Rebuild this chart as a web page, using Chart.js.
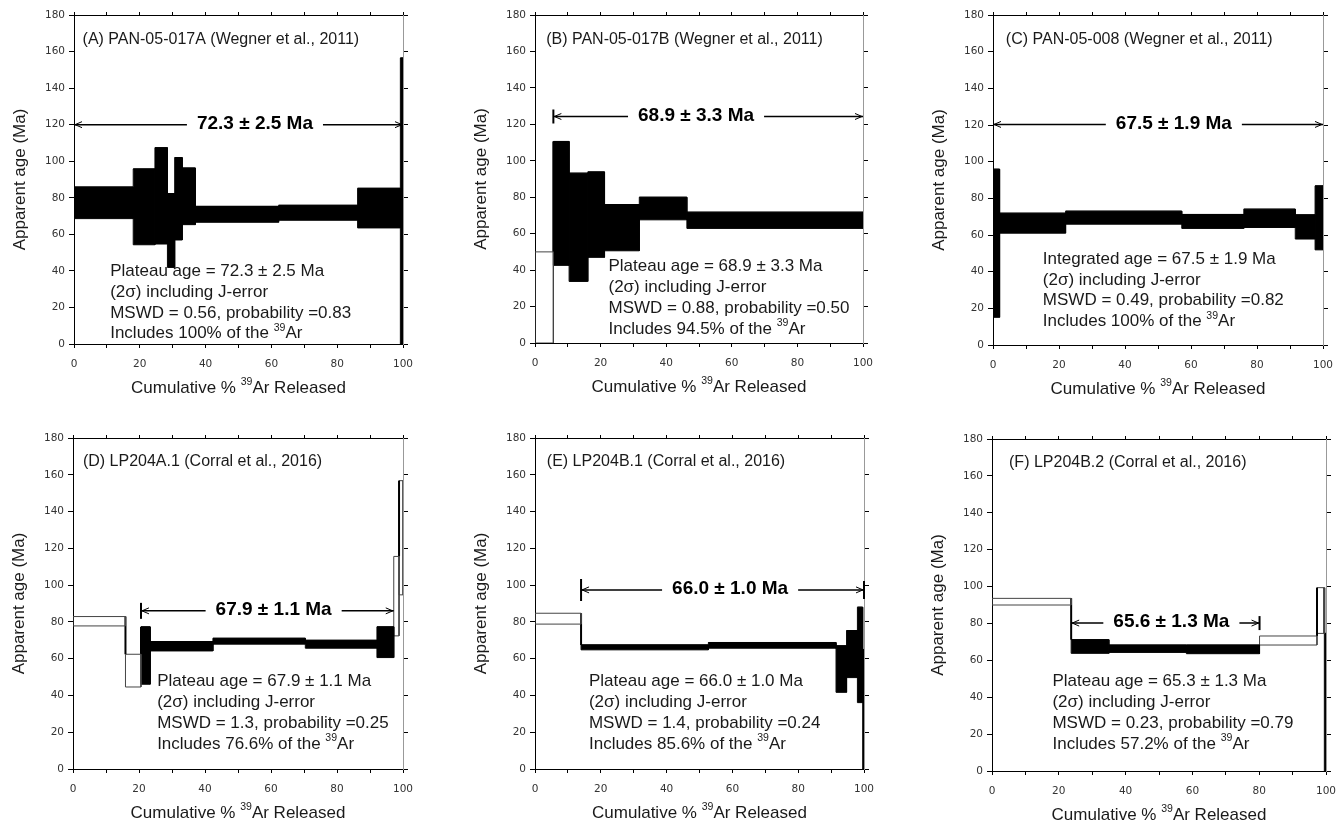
<!DOCTYPE html>
<html>
<head>
<meta charset="utf-8">
<title>40Ar/39Ar age spectra</title>
<script src="https://cdn.jsdelivr.net/npm/chart.js@4.4.1/dist/chart.umd.min.js"></script>
<style>
  body { margin: 0; background: #fff; width: 1336px; height: 825px; position: relative; overflow: hidden; }
  canvas { position: absolute; }
</style>
</head>
<body>
<canvas id="cA"></canvas>
<canvas id="cB"></canvas>
<canvas id="cC"></canvas>
<canvas id="cD"></canvas>
<canvas id="cE"></canvas>
<canvas id="cF"></canvas>
<script>
// step boundaries (cumulative % 39Ar), upper / lower age limits (Ma), plateau flag
const aCum  = [0, 18.0, 24.6, 28.4, 30.6, 32.9, 36.9, 62.2, 86.2, 99.2, 100];
const aHigh = [85.9, 95.8, 107.4, 82.3, 102.0, 96.3, 75.3, 75.9, 85.2, 156.5];
const aLow  = [68.6, 54.3, 54.7, 41.9, 56.9, 65.3, 66.6, 67.7, 63.5, 0];
const aPlat = [1, 1, 1, 1, 1, 1, 1, 1, 1, 1];

const bCum  = [0, 5.6, 10.4, 16.1, 21.2, 31.8, 46.3, 100];
const bHigh = [50.0, 110.6, 93.2, 93.9, 76.0, 80.0, 71.8];
const bLow  = [0, 42.6, 33.8, 47.0, 50.6, 67.6, 62.9];
const bPlat = [0, 1, 1, 1, 1, 1, 1];

const cCum  = [0, 2.0, 22.0, 57.2, 76.0, 91.6, 97.6, 100];
const cHigh = [95.9, 71.9, 73.0, 71.2, 74.1, 71.0, 86.8];
const cLow  = [15.1, 61.0, 65.9, 63.6, 64.1, 57.8, 51.9];
const cPlat = [1, 1, 1, 1, 1, 1, 1];

const dCum  = [0, 15.9, 20.6, 23.4, 42.4, 70.4, 92.1, 97.2, 98.8, 100];
const dHigh = [82.9, 62.4, 77.3, 69.3, 71.1, 70.0, 77.3, 115.6, 156.8];
const dLow  = [77.8, 44.6, 46.1, 64.2, 67.9, 65.7, 60.6, 72.4, 94.7];
const dPlat = [0, 0, 1, 1, 1, 1, 1, 0, 0];

const eCum  = [0, 14.0, 52.7, 91.5, 94.7, 98.0, 99.6, 100];
const eHigh = [84.7, 67.5, 68.8, 67.0, 75.3, 88.0, 65.0];
const eLow  = [78.8, 64.8, 65.7, 41.7, 49.7, 36.1, 0];
const ePlat = [0, 1, 1, 1, 1, 1, 1];

const fCum  = [0, 23.7, 35.0, 58.2, 80.1, 97.3, 99.5, 100];
const fHigh = [93.6, 71.2, 68.3, 68.3, 73.2, 99.4, 74.6];
const fLow  = [90.0, 63.8, 64.3, 63.6, 68.3, 74.6, 0];
const fPlat = [0, 1, 1, 1, 0, 0, 1];

// plateau arrows: [from %, to %, age level Ma]
const aArrow = [0, 100, 120];
const bArrow = [5.6, 100, 124.3];
const cArrow = [0, 100, 120.3];
const dArrow = [20.6, 97.2, 86.0];
const eArrow = [14.0, 100, 97.4];
const fArrow = [23.7, 80.1, 80.2];

const xTicks = [0, 20, 40, 60, 80, 100];
const yTicks = [0, 20, 40, 60, 80, 100, 120, 140, 160, 180];

const SANS = '"Liberation Sans", Arial, Helvetica, sans-serif';
const L = 74, T = 15, R = 10, B = 60;

const panels = [
  { id: 'cA', left: 74, top: 15, w: 329, h: 329,
    cum: aCum, high: aHigh, low: aLow, plat: aPlat, arrow: aArrow, bars: [0, 0],
    title: '(A) PAN-05-017A (Wegner et al., 2011)', titleAt: [2.6, 166.5],
    age: '72.3 ± 2.5 Ma', ageAt: 55.0,
    stats: ['Plateau age = 72.3 ± 2.5 Ma', '(2σ) including J-error',
            'MSWD = 0.56, probability =0.83', 'Includes 100% of the ^39Ar'],
    statsAt: [11.0, 39.8] },
  { id: 'cB', left: 535, top: 15, w: 328, h: 328,
    cum: bCum, high: bHigh, low: bLow, plat: bPlat, arrow: bArrow, bars: [7, 0],
    title: '(B) PAN-05-017B (Wegner et al., 2011)', titleAt: [3.4, 166.5],
    age: '68.9 ± 3.3 Ma', ageAt: 49.1,
    stats: ['Plateau age = 68.9 ± 3.3 Ma', '(2σ) including J-error',
            'MSWD = 0.88, probability =0.50', 'Includes 94.5% of the ^39Ar'],
    statsAt: [22.4, 42.0] },
  { id: 'cC', left: 993, top: 15, w: 330, h: 330,
    cum: cCum, high: cHigh, low: cLow, plat: cPlat, arrow: cArrow, bars: [0, 0],
    title: '(C) PAN-05-008 (Wegner et al., 2011)', titleAt: [3.9, 166.5],
    age: '67.5 ± 1.9 Ma', ageAt: 54.8,
    stats: ['Integrated age = 67.5 ± 1.9 Ma', '(2σ) including J-error',
            'MSWD = 0.49, probability =0.82', 'Includes 100% of the ^39Ar'],
    statsAt: [15.1, 46.9] },
  { id: 'cD', left: 73, top: 438, w: 330, h: 331,
    cum: dCum, high: dHigh, low: dLow, plat: dPlat, arrow: dArrow, bars: [8, 0],
    title: '(D) LP204A.1 (Corral et al., 2016)', titleAt: [3.0, 167.0],
    age: '67.9 ± 1.1 Ma', ageAt: 60.8,
    stats: ['Plateau age = 67.9 ± 1.1 Ma', '(2σ) including J-error',
            'MSWD = 1.3, probability =0.25', 'Includes 76.6% of the ^39Ar'],
    statsAt: [25.5, 47.5] },
  { id: 'cE', left: 535, top: 438, w: 329, h: 331,
    cum: eCum, high: eHigh, low: eLow, plat: ePlat, arrow: eArrow, bars: [11, 9],
    title: '(E) LP204B.1 (Corral et al., 2016)', titleAt: [3.6, 167.0],
    age: '66.0 ± 1.0 Ma', ageAt: 59.3,
    stats: ['Plateau age = 66.0 ± 1.0 Ma', '(2σ) including J-error',
            'MSWD = 1.4, probability =0.24', 'Includes 85.6% of the ^39Ar'],
    statsAt: [16.4, 47.6] },
  { id: 'cF', left: 992, top: 439, w: 334, h: 332,
    cum: fCum, high: fHigh, low: fLow, plat: fPlat, arrow: fArrow, bars: [0, 7],
    title: '(F) LP204B.2 (Corral et al., 2016)', titleAt: [5.1, 167.0],
    age: '65.6 ± 1.3 Ma', ageAt: 53.7,
    stats: ['Plateau age = 65.3 ± 1.3 Ma', '(2σ) including J-error',
            'MSWD = 0.23, probability =0.79', 'Includes 57.2% of the ^39Ar'],
    statsAt: [18.1, 48.4] }
];

// text with "^39" style superscripts
function richWidth(ctx, str, size) {
  let w = 0;
  str.split(/\^(\d+)/).forEach((t, k) => {
    ctx.font = (k % 2 ? size * 0.62 : size) + 'px ' + SANS;
    w += ctx.measureText(t).width;
  });
  return w;
}
function drawRich(ctx, str, x, y, size) {
  let cx = x;
  str.split(/\^(\d+)/).forEach((t, k) => {
    const sup = k % 2 === 1;
    ctx.font = (sup ? size * 0.62 : size) + 'px ' + SANS;
    ctx.fillText(t, cx, sup ? y - size * 0.33 : y);
    cx += ctx.measureText(t).width;
  });
}

function notesPlugin(p) {
  return {
    id: 'notes',
    afterDraw(chart) {
      const { ctx, chartArea, scales } = chart;
      const x = scales.x, y = scales.y;
      ctx.save();
      ctx.fillStyle = '#1a1a1a';
      ctx.textBaseline = 'middle';
      ctx.textAlign = 'left';

      // sample name
      ctx.font = '16px ' + SANS;
      ctx.fillText(p.title, x.getPixelForValue(p.titleAt[0]), y.getPixelForValue(p.titleAt[1]));

      // plateau arrow with the age in the middle
      const ax0 = x.getPixelForValue(p.arrow[0]);
      const ax1 = x.getPixelForValue(p.arrow[1]);
      const ay = y.getPixelForValue(p.arrow[2]);
      ctx.font = 'bold 19px ' + SANS;
      const tw = ctx.measureText(p.age).width;
      const tc = x.getPixelForValue(p.ageAt);
      ctx.strokeStyle = '#000';
      ctx.lineWidth = 1.5;
      ctx.beginPath();
      ctx.moveTo(ax0, ay); ctx.lineTo(tc - tw / 2 - 10, ay);
      ctx.moveTo(tc + tw / 2 + 10, ay); ctx.lineTo(ax1, ay);
      ctx.stroke();
      ctx.lineWidth = 1;
      ctx.beginPath();
      ctx.moveTo(ax0 + 8, ay - 3); ctx.lineTo(ax0 + 1, ay); ctx.lineTo(ax0 + 8, ay + 3);
      ctx.moveTo(ax1 - 8, ay - 3); ctx.lineTo(ax1 - 1, ay); ctx.lineTo(ax1 - 8, ay + 3);
      ctx.stroke();
      ctx.lineWidth = 2;
      ctx.beginPath();
      if (p.bars[0]) { ctx.moveTo(ax0, ay - p.bars[0]); ctx.lineTo(ax0, ay + p.bars[0]); }
      if (p.bars[1]) { ctx.moveTo(ax1, ay - p.bars[1]); ctx.lineTo(ax1, ay + p.bars[1]); }
      ctx.stroke();
      ctx.textAlign = 'center';
      ctx.fillStyle = '#000';
      ctx.fillText(p.age, tc, ay - 1);

      // statistics block
      ctx.textAlign = 'left';
      ctx.fillStyle = '#1a1a1a';
      const sx = x.getPixelForValue(p.statsAt[0]);
      let sy = y.getPixelForValue(p.statsAt[1]);
      p.stats.forEach(line => {
        drawRich(ctx, line, sx, sy, 17);
        sy += 20.8;
      });

      // x axis title
      const xt = 'Cumulative % ^39Ar Released';
      const xw = richWidth(ctx, xt, 17);
      drawRich(ctx, xt, (chartArea.left + chartArea.right) / 2 - xw / 2, chartArea.bottom + 44, 17);
      ctx.restore();
    }
  };
}

function boxPoints(x0, x1, lo, hi) {
  return [{ x: x0, y: lo }, { x: x0, y: hi }, { x: x1, y: hi }, { x: x1, y: lo }, { x: x0, y: lo }];
}

function buildDatasets(p) {
  const sets = [];
  for (let i = 0; i < p.high.length; i++) {
    const x0 = p.cum[i], x1 = p.cum[i + 1];
    if (p.plat[i]) {
      // solid step: filled band plus its outline
      sets.push({
        data: [{ x: x0, y: p.high[i] }, { x: x1, y: p.high[i] }],
        fill: { value: p.low[i] },
        backgroundColor: '#000', borderColor: '#000', borderWidth: 1
      });
      sets.push({
        data: boxPoints(x0, x1, p.low[i], p.high[i]),
        fill: false, borderColor: '#000', borderWidth: 1
      });
    } else {
      sets.push({
        data: boxPoints(x0, x1, p.low[i], p.high[i]),
        fill: false, borderColor: '#444', borderWidth: 1
      });
      if (i + 1 < p.high.length) {
        sets.push({
          data: [{ x: x1, y: p.high[i] }, { x: x1, y: p.high[i + 1] }],
          fill: false, borderColor: '#000', borderWidth: 2
        });
      }
    }
  }
  return sets;
}

const tickFont = { family: '"DejaVu Sans", Verdana, sans-serif', size: 10.5 };

panels.forEach(p => {
  const cv = document.getElementById(p.id);
  cv.width = L + p.w + R;
  cv.height = T + p.h + B;
  cv.style.left = (p.left - L) + 'px';
  cv.style.top = (p.top - T) + 'px';

  new Chart(cv.getContext('2d'), {
    type: 'line',
    data: { datasets: buildDatasets(p) },
    options: {
      responsive: false,
      animation: false,
      events: [],
      layout: { padding: 0, autoPadding: false },
      elements: { point: { radius: 0 }, line: { tension: 0 } },
      plugins: { legend: { display: false }, tooltip: { enabled: false } },
      scales: {
        x: {
          type: 'linear', position: 'bottom', min: 0, max: 100,
          ticks: {
            stepSize: 10, autoSkip: false, maxRotation: 0, padding: 10,
            color: '#333', font: tickFont,
            callback: v => (xTicks.includes(v) ? v : '')
          },
          grid: { drawOnChartArea: false, tickLength: 4, color: '#000' },
          border: { color: '#000', width: 1 },
          // fixed box: no extra room for the end labels
          afterFit: s => { s.height = B; s.paddingLeft = 0; s.paddingRight = 0; }
        },
        xTop: {
          type: 'linear', position: 'top', min: 0, max: 100,
          ticks: { display: false, stepSize: 10 },
          grid: { drawOnChartArea: false, tickLength: 3, color: '#000' },
          border: { color: '#000', width: 1 },
          afterFit: s => { s.height = T; }
        },
        y: {
          type: 'linear', position: 'left', min: 0, max: 180,
          afterBuildTicks: s => { s.ticks = yTicks.map(v => ({ value: v })); },
          ticks: { padding: 4, color: '#333', font: tickFont },
          grid: { drawOnChartArea: false, tickLength: 5, color: '#000' },
          border: { color: '#000', width: 1 },
          title: {
            display: true, text: 'Apparent age (Ma)', color: '#1a1a1a',
            font: { family: SANS, size: 17 }, padding: { top: 10, bottom: 0 }
          },
          afterFit: s => { s.width = L; s.paddingTop = 0; s.paddingBottom = 0; }
        },
        yRight: {
          type: 'linear', position: 'right', min: 0, max: 180,
          afterBuildTicks: s => { s.ticks = yTicks.map(v => ({ value: v })); },
          ticks: { display: false },
          grid: { drawOnChartArea: false, tickLength: 5, color: '#000' },
          border: { color: '#999', width: 1 },
          afterFit: s => { s.width = R; }
        }
      }
    },
    plugins: [notesPlugin(p)]
  });
});
</script>
</body>
</html>
